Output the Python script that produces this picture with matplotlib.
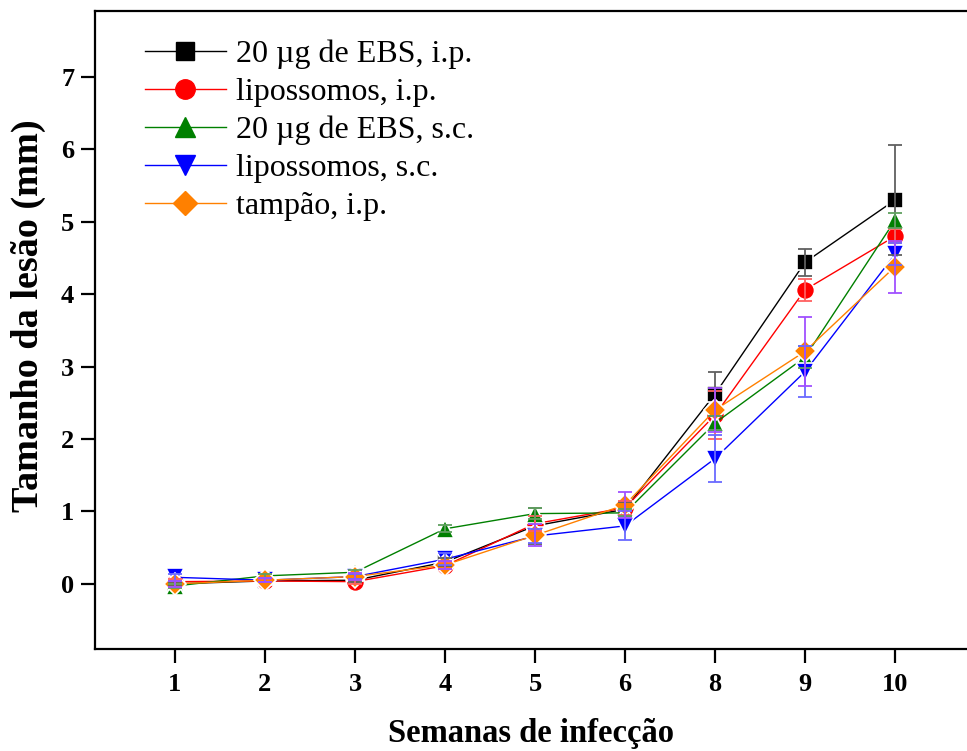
import matplotlib
matplotlib.use("Agg")
import matplotlib.pyplot as plt
import numpy as np

weeks = ["1", "2", "3", "4", "5", "6", "8", "9", "10"]

labels = ["20 µg de EBS, i.p.", "lipossomos, i.p.", "20 µg de EBS, s.c.",
          "lipossomos, s.c.", "tampão, i.p."]

ebs_ip = [0.00, 0.04, 0.05, 0.30, 0.80, 1.03, 2.62, 4.44, 5.30]
lip_ip = [0.03, 0.04, 0.03, 0.25, 0.83, 1.05, 2.33, 4.06, 4.80]
ebs_sc = [-0.03, 0.11, 0.16, 0.76, 0.97, 0.98, 2.22, 3.13, 5.02]
lip_sc = [0.09, 0.05, 0.10, 0.34, 0.66, 0.80, 1.73, 2.93, 4.55]
tampao = [0.00, 0.05, 0.10, 0.26, 0.67, 1.09, 2.40, 3.21, 4.38]

err_ebs_ip = [0.02, 0.02, 0.02, 0.05, 0.25, 0.10, 0.30, 0.19, 0.76]
err_lip_ip = [0.03, 0.02, 0.03, 0.05, 0.10, 0.10, 0.33, 0.15, 0.10]
err_ebs_sc = [0.03, 0.03, 0.03, 0.05, 0.08, 0.05, 0.10, 0.15, 0.10]
err_lip_sc = [0.05, 0.03, 0.03, 0.08, 0.10, 0.20, 0.32, 0.35, 0.15]
err_tampao = [0.04, 0.03, 0.05, 0.05, 0.15, 0.18, 0.30, 0.48, 0.36]

series = [ebs_ip, lip_ip, ebs_sc, lip_sc, tampao]
errors = [err_ebs_ip, err_lip_ip, err_ebs_sc, err_lip_sc, err_tampao]
colors = ["#000000", "#ff0000", "#008000", "#0000ff", "#ff8000"]
ecolors = ["#606060", "#ff6060", "#60a060", "#6a6aff", "#a050ff"]
markers = ["s", "o", "^", "v", "D"]
msizes = [12, 13, 13, 13, 11]

plt.rcParams["font.family"] = ["Liberation Serif", "DejaVu Serif"]

fig = plt.figure(figsize=(9.67, 7.51), dpi=100)
ax = fig.add_axes([0.0982, 0.1358, 0.9018, 0.8495])

x = np.arange(len(weeks))
for ys, es, c, ec, m, ms, lab in zip(series, errors, colors, ecolors, markers, msizes, labels):
    ax.plot(x, ys, color=c, lw=1.0, marker=m, ms=ms, mfc=c, mec="white",
            mew=1.2, zorder=3)
    ax.errorbar(x, ys, yerr=es, fmt="none", ecolor=ec, elinewidth=1.3,
                capsize=4.7, capthick=1.3, zorder=4)

ax.set_xlim(-0.889, 8.8)
ax.set_ylim(-0.9, 7.91)
ax.set_xticks(x)
ax.set_xticklabels(weeks)
ax.set_yticks(range(0, 8))

for s in ["left", "bottom", "top"]:
    ax.spines[s].set_linewidth(1.6)
ax.spines["right"].set_visible(False)
ax.tick_params(direction="out", length=10, width=1.6, labelsize=19, pad=5)
ax.tick_params(axis="x", pad=7)
for t in ax.get_xticklabels() + ax.get_yticklabels():
    t.set_fontweight("bold")

ax.set_xlabel("Semanas de infecção", fontsize=23.5, fontweight="bold", labelpad=16)
ax.set_ylabel("Tamanho da lesão (mm)", fontsize=27.5, fontweight="bold")
ax.yaxis.set_label_coords(-0.056, 0.523)

leg_handles = []
for c, m, ms, lab in zip(colors, markers, msizes, labels):
    lh, = ax.plot([], [], color=c, lw=1.0, marker=m, ms=ms + 1, mfc=c, mec=c, label=lab)
    leg_handles.append(lh)
ax.legend(handles=leg_handles, loc="upper left", frameon=False, fontsize=23,
          handlelength=2.55, handletextpad=0.3, labelspacing=0.27,
          bbox_to_anchor=(0.035, 0.985), borderaxespad=0.2)

fig.savefig("out.png", dpi=100)
